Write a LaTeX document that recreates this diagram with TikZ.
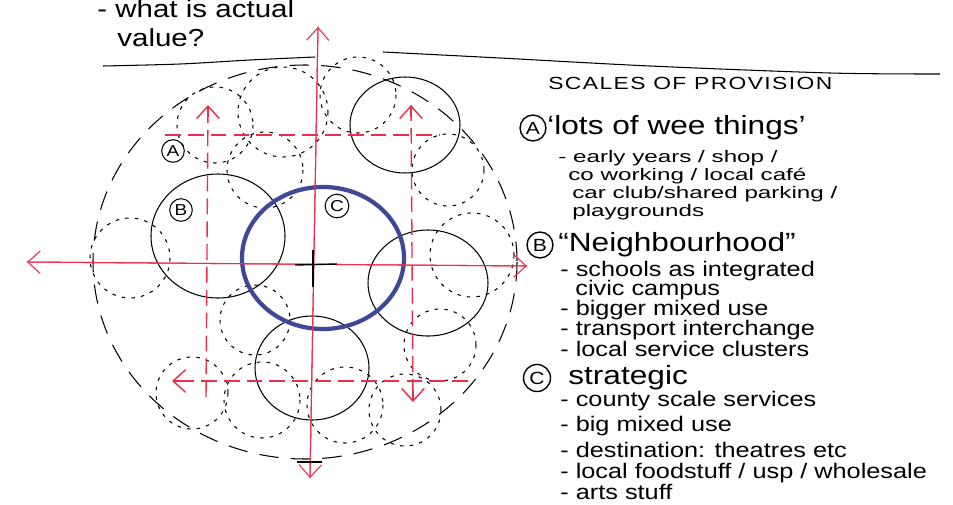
\documentclass[tikz,border=0pt]{standalone}
\usepackage{fontspec}
\setmainfont{Liberation Sans}
\newfontfamily\handfont[FakeStretch=1.2]{Liberation Sans}
\newfontfamily\smallhand[FakeStretch=1.45]{Liberation Sans}
\newfontfamily\capsfont[FakeStretch=1.3,LetterSpace=8]{Liberation Sans}
\usetikzlibrary{arrows.meta,calc}

\definecolor{penred}{RGB}{238,45,75}
\definecolor{penblue}{RGB}{62,72,150}

\begin{document}
\begin{tikzpicture}[x=0.02cm, y=-0.02cm,
  font=\handfont\fontsize{12}{14}\selectfont,
  redaxis/.style={penred, semithick},
  redgrid/.style={penred, thick, dash pattern=on 9pt off 4pt},
  barb/.style={-{Straight Barb[length=2.5mm,width=4.5mm]}},
  zone/.style={black, semithick},
  spot/.style={black, semithick, dash pattern=on 2pt off 3.5pt},
  halo/.style={black, semithick, dash pattern=on 11pt off 7pt},
  tag/.style={draw, circle, semithick, inner sep=1.2pt,
              font=\handfont\fontsize{9}{10}\selectfont},
  keytag/.style={tag, thick, inner sep=1.5pt,
              font=\handfont\fontsize{10}{11}\selectfont},
  note/.style={anchor=west, inner sep=0pt},
  head/.style={note, font=\handfont\fontsize{15}{17}\selectfont},
  small/.style={note, font=\smallhand\fontsize{9.5}{10}\selectfont}]

\useasboundingbox[fill=white] (0,0) rectangle (953,504);

% question at the top
\node[note, font=\handfont\fontsize{14}{16}\selectfont] (ask1) at (97,9) {- what is actual};
\node[note, font=\handfont\fontsize{14}{16}\selectfont] (ask2) at (117,38) {value?};
\draw[zone] plot[smooth] coordinates {(103,66) (180,64) (250,60) (315,57)};
\draw[zone] plot[smooth] coordinates {(383,52) (500,58) (650,66) (830,73) (940,74)};

% outer ring and the spread of small places
\draw[halo] (305,262) circle [x radius=212, y radius=197];
\foreach \cx/\cy/\r in {215/125/38, 283/112/45, 358/95/38, 448/170/36,
    472/255/42, 440/345/36, 405/410/36, 345/405/38, 262/400/38,
    192/393/36, 130/258/40, 265/170/38, 255/320/35}
  \draw[spot] (\cx,\cy) circle [radius=\r];

% neighbourhood circles
\draw[zone] (405,125) circle [x radius=55, y radius=48];
\draw[zone] (218,236) circle [x radius=67, y radius=62];
\draw[zone] (428,283) circle [x radius=60, y radius=53];
\draw[zone] (312,368) circle [x radius=57, y radius=52];

% strategic centre
\draw[penblue, line width=2.4pt] (323,258) circle [x radius=81, y radius=71];

% axes
\coordinate (ntop) at (318,27);
\coordinate (nbot) at (310,478);
\coordinate (wend) at (27,262);
\coordinate (eend) at (527,266);
\draw[redaxis, barb] (nbot) -- (ntop);
\draw[redaxis, barb] (ntop) -- (nbot);
\draw[redaxis, barb] (eend) -- (wend);
\draw[redaxis, barb] (wend) -- (eend);

% local grid
\coordinate (gtl) at (165,135);
\coordinate (gtr) at (440,135);
\coordinate (gbl) at (172,381);
\coordinate (gbr) at (468,381);
\coordinate (glt) at (208,105);
\coordinate (glb) at (206,397);
\coordinate (grt) at (411,105);
\coordinate (grb) at (413,402);
\draw[redgrid] (gtl) -- (gtr);
\draw[redgrid] (gbr) -- (gbl);
\draw[penred, thick, barb] ($(gbl)+(12,0)$) -- (gbl);
\draw[redgrid] (glb) -- (glt);
\draw[penred, thick, barb] ($(glt)+(0,12)$) -- (glt);
\draw[redgrid] (grt) -- (grb);
\draw[penred, thick, barb] ($(grt)+(0,12)$) -- (grt);
\draw[penred, thick, barb] ($(grb)-(0,12)$) -- (grb);

% centre marks
\draw[black, thick] (295,265) -- (337,264);
\draw[black, thick] (313,250) -- (313,287);
\draw[black, thick] (297,462) -- (322,462);

% scale tags in the plan
\node[tag] (planA) at (173,151) {A};
\node[tag] (planB) at (181,210) {B};
\node[tag] (planC) at (337,206) {C};

% legend
\node[note, font=\capsfont\fontsize{10}{12}\selectfont] (title) at (548,83) {SCALES OF PROVISION};

\node[keytag] (keyA) at (533,128) {A};
\node[head] (headA) at (547,128) {‘lots of wee things’};
\node[small] (a1) at (558,158) {- early years / shop /};
\node[small] (a2) at (568,176) {co working / local café};
\node[small] (a3) at (572,194) {car club/shared parking /};
\node[small] (a4) at (572,212) {playgrounds};

\node[keytag] (keyB) at (540,245) {B};
\node[head] (headB) at (558,245) {“Neighbourhood”};
\node[note] (b1) at (560,271) {- schools as integrated};
\node[note] (b2) at (575,290) {civic campus};
\node[note] (b3) at (560,310) {- bigger mixed use};
\node[note] (b4) at (560,330) {- transport interchange};
\node[note] (b5) at (560,349) {- local service clusters};

\node[keytag] (keyC) at (537,378) {C};
\node[head] (headC) at (568,378) {strategic};
\node[note] (c1) at (560,401) {- county scale services};
\node[note] (c2) at (560,426) {- big mixed use};
\node[note] (c3) at (560,450) {- destination: theatres etc};
\node[note] (c4) at (560,473) {- local foodstuff / usp / wholesale};
\node[note] (c5) at (560,492) {- arts stuff};
\end{tikzpicture}
\end{document}
